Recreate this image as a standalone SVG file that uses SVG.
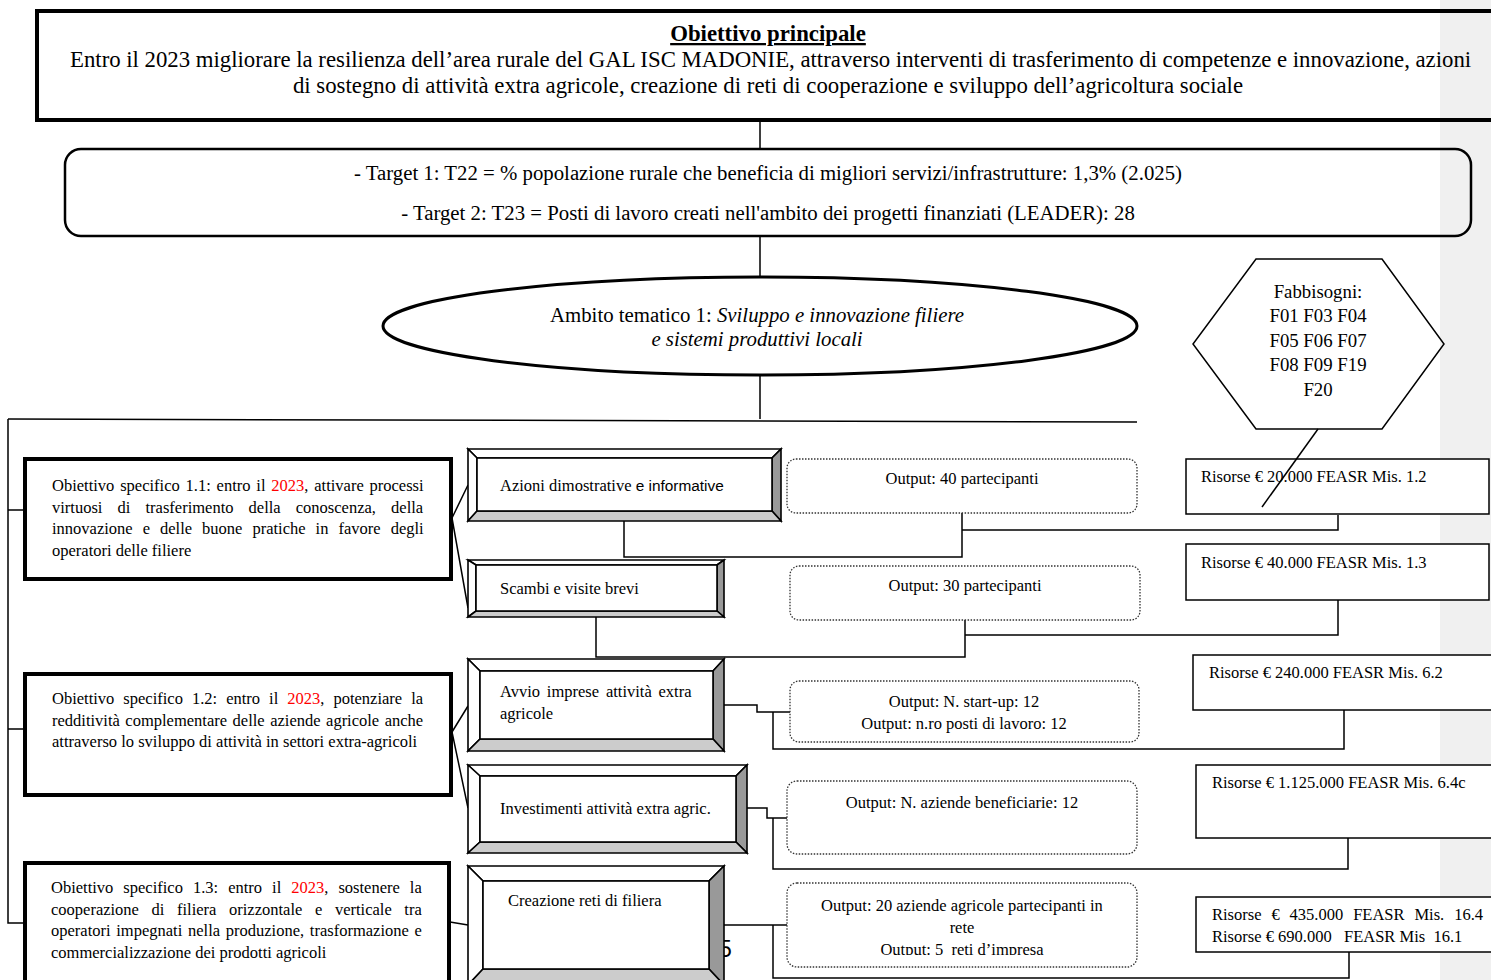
<svg xmlns="http://www.w3.org/2000/svg" width="1491" height="980" viewBox="0 0 1491 980">
<style>
text{font-family:"Liberation Serif","Times New Roman",serif;fill:#000}
.t21{font-size:22.8px}
.t19{font-size:20.8px}
.t15{font-size:16.5px}
.t18{font-size:18.8px}
.red{fill:#ff0000}
.sans{font-family:"Liberation Sans",Arial,sans-serif}
.thick{fill:#fff;stroke:#000;stroke-width:4}
.res{fill:#fff;stroke:#000;stroke-width:1.5}
.out{fill:#fff;stroke:#333;stroke-width:1.3;stroke-dasharray:1.5 1.5}
.bv{stroke:#000;stroke-width:1.6;stroke-linejoin:miter}
.w{fill:#fff}.g1{fill:#999}.g2{fill:#ccc}
.con{fill:none;stroke:#000;stroke-width:1.5}
</style>
<defs>
<clipPath id="clipO5"><rect x="787" y="883" width="352" height="72"/></clipPath>
</defs>
<rect x="0" y="0" width="1491" height="980" fill="#fff"/>
<rect x="1440" y="0" width="51" height="980" fill="#f0f0f0"/>

<g id="connectors" class="con">
<path d="M760,121V148M760,236V277M760,375V419"/>
<path d="M8,419L1137,422"/>
<path d="M8,419V923H25M8,510H25M8,729H25"/>
<path d="M452,518L468,485M452,518L468,608"/>
<path d="M452,732L468,706M452,732L468,808"/>
<path d="M450,922L468,925"/>
<path d="M624,521V557H962V513M962,530H1338V515"/>
<path d="M596,617V657H965V620M965,635H1338V600"/>
<path d="M724,705H757V712H790M773,712V749H1344V710"/>
<path d="M747,808H767V818H787M773,818V869H1348V838"/>
<path d="M724,925H787M773,925V978H1349V952"/>
</g>

<g id="main-objective">
<rect x="37" y="11" width="1470" height="109" fill="none" stroke="#000" stroke-width="4"/>
<text x="768" y="41" class="t21" text-anchor="middle" font-weight="bold" text-decoration="underline">Obiettivo principale</text>
<text x="70" y="67" class="t21" word-spacing="-0.1">Entro il 2023 migliorare la resilienza dell’area rurale del GAL ISC MADONIE, attraverso interventi di trasferimento di competenze e innovazione, azioni</text>
<text x="768" y="93" class="t21" text-anchor="middle">di sostegno di attività extra agricole, creazione di reti di cooperazione e sviluppo dell’agricoltura sociale</text>
</g>

<g id="targets">
<rect x="65" y="149" width="1406" height="87" rx="16" fill="none" stroke="#000" stroke-width="2.5"/>
<text x="768" y="180" class="t19" text-anchor="middle">- Target 1: T22 = % popolazione rurale che beneficia di migliori servizi/infrastrutture: 1,3% (2.025)</text>
<text x="768" y="220" class="t19" text-anchor="middle">- Target 2: T23 = Posti di lavoro creati nell'ambito dei progetti finanziati (LEADER): 28</text>
</g>

<g id="ambito">
<ellipse cx="760" cy="326" rx="377" ry="49" fill="#fff" stroke="#000" stroke-width="3"/>
<text x="757" y="322" class="t19" text-anchor="middle">Ambito tematico 1: <tspan font-style="italic">Sviluppo e innovazione filiere</tspan></text>
<text x="757" y="346" class="t19" text-anchor="middle" font-style="italic">e sistemi produttivi locali</text>
</g>

<g id="fabbisogni">
<polygon points="1256,259 1382,259 1444,344 1382,429 1256,429 1193,344" fill="none" stroke="#000" stroke-width="1.5"/>
<text class="t18" text-anchor="middle"><tspan x="1318" y="298">Fabbisogni:</tspan><tspan x="1318" y="322">F01 F03 F04</tspan><tspan x="1318" y="347">F05 F06 F07</tspan><tspan x="1318" y="371">F08 F09 F19</tspan><tspan x="1318" y="396">F20</tspan></text>
</g>

<g id="obiettivo-1-1">
<rect x="25" y="459" width="426" height="120" class="thick"/>
<text x="52" y="491" class="t15" word-spacing="1.7">Obiettivo specifico 1.1: entro il <tspan class="red">2023</tspan>, attivare processi</text>
<text x="52" y="513" class="t15" word-spacing="11">virtuosi di trasferimento della conoscenza, della</text>
<text x="52" y="534" class="t15" word-spacing="5.9">innovazione e delle buone pratiche in favore degli</text>
<text x="52" y="556" class="t15">operatori delle filiere</text>
</g>

<g id="obiettivo-1-2">
<rect x="25" y="674" width="426" height="121" class="thick"/>
<text x="52" y="704" class="t15" word-spacing="4.9">Obiettivo specifico 1.2: entro il <tspan class="red">2023</tspan>, potenziare la</text>
<text x="52" y="726" class="t15" word-spacing="1.4">redditività complementare delle aziende agricole anche</text>
<text x="52" y="747" class="t15">attraverso lo sviluppo di attività in settori extra-agricoli</text>
</g>

<g id="obiettivo-1-3">
<rect x="25" y="863" width="424" height="130" class="thick"/>
<text x="51" y="893" class="t15" word-spacing="5.9">Obiettivo specifico 1.3: entro il <tspan class="red">2023</tspan>, sostenere la</text>
<text x="51" y="915" class="t15" word-spacing="8.5">cooperazione di filiera orizzontale e verticale tra</text>
<text x="51" y="936" class="t15" word-spacing="1.6">operatori impegnati nella produzione, trasformazione e</text>
<text x="51" y="958" class="t15">commercializzazione dei prodotti agricoli</text>
</g>

<text x="719" y="957" class="sans" font-size="23">5</text>

<g id="azione-1">
<g class="bv">
<polygon class="w" points="468,449 781,449 772,458 477,458"/>
<polygon class="w" points="468,449 477,458 477,511 468,521"/>
<polygon class="g1" points="781,449 781,521 772,511 772,458"/>
<polygon class="g2" points="468,521 781,521 772,511 477,511"/>
<rect class="w" x="477" y="458" width="295" height="53"/>
</g>
<text x="500" y="491" class="t15">Azioni dimostrative <tspan class="sans" font-size="15.4">e informative</tspan></text>
</g>

<g id="azione-2">
<g class="bv">
<polygon class="w" points="468,560 724,560 717,565 476,565"/>
<polygon class="w" points="468,560 476,565 476,611 468,617"/>
<polygon class="g1" points="724,560 724,617 717,611 717,565"/>
<polygon class="g2" points="468,617 724,617 717,611 476,611"/>
<rect class="w" x="476" y="565" width="241" height="46"/>
</g>
<text x="500" y="594" class="t15">Scambi e visite brevi</text>
</g>

<g id="azione-3">
<g class="bv">
<polygon class="w" points="468,659 724,659 713,671 480,671"/>
<polygon class="w" points="468,659 480,671 480,739 468,751"/>
<polygon class="g1" points="724,659 724,751 713,739 713,671"/>
<polygon class="g2" points="468,751 724,751 713,739 480,739"/>
<rect class="w" x="480" y="671" width="233" height="68"/>
</g>
<text x="500" y="697" class="t15" word-spacing="2.7">Avvio imprese attività extra</text>
<text x="500" y="719" class="t15">agricole</text>
</g>

<g id="azione-4">
<g class="bv">
<polygon class="w" points="468,765 747,765 736,776 480,776"/>
<polygon class="w" points="468,765 480,776 480,842 468,853"/>
<polygon class="g1" points="747,765 747,853 736,842 736,776"/>
<polygon class="g2" points="468,853 747,853 736,842 480,842"/>
<rect class="w" x="480" y="776" width="256" height="66"/>
</g>
<text x="500" y="814" class="t15">Investimenti attività extra agric.</text>
</g>

<g id="azione-5">
<g class="bv">
<polygon class="w" points="468,866 724,866 709,881 483,881"/>
<polygon class="w" points="468,866 483,881 483,969 468,985"/>
<polygon class="g1" points="724,866 724,985 709,969 709,881"/>
<polygon class="g2" points="468,985 724,985 709,969 483,969"/>
<rect class="w" x="483" y="881" width="226" height="88"/>
</g>
<text x="508" y="906" class="t15">Creazione reti di filiera</text>
</g>

<g id="output-1">
<rect x="787" y="459" width="350" height="54" rx="9" class="out"/>
<text x="962" y="484" class="t15" text-anchor="middle">Output: 40 partecipanti</text>
</g>
<g id="output-2">
<rect x="790" y="566" width="350" height="54" rx="9" class="out"/>
<text x="965" y="591" class="t15" text-anchor="middle">Output: 30 partecipanti</text>
</g>
<g id="output-3">
<rect x="790" y="681" width="349" height="61" rx="9" class="out"/>
<text x="964" y="707" class="t15" text-anchor="middle">Output: N. start-up: 12</text>
<text x="964" y="729" class="t15" text-anchor="middle">Output: n.ro posti di lavoro: 12</text>
</g>
<g id="output-4">
<rect x="787" y="781" width="350" height="73" rx="10" class="out"/>
<text x="962" y="808" class="t15" text-anchor="middle">Output: N. aziende beneficiarie: 12</text>
</g>
<g id="output-5">
<rect x="787" y="883" width="350" height="84" rx="10" class="out"/>
<g clip-path="url(#clipO5)">
<text x="962" y="911" class="t15" text-anchor="middle">Output: 20 aziende agricole partecipanti in</text>
<text x="962" y="933" class="t15" text-anchor="middle">rete</text>
<text x="962" y="955" class="t15" text-anchor="middle" xml:space="preserve">Output: 5  reti d’impresa</text>
</g>
</g>

<g id="risorse-1">
<rect x="1186" y="459" width="303" height="55" class="res"/>
<text x="1201" y="482" class="t15">Risorse € 20.000 FEASR Mis. 1.2</text>
</g>
<g id="risorse-2">
<rect x="1186" y="544" width="303" height="56" class="res"/>
<text x="1201" y="568" class="t15">Risorse € 40.000 FEASR Mis. 1.3</text>
</g>
<g id="risorse-3">
<rect x="1193" y="655" width="310" height="55" class="res"/>
<text x="1209" y="678" class="t15">Risorse € 240.000 FEASR Mis. 6.2</text>
</g>
<g id="risorse-4">
<rect x="1196" y="765" width="310" height="73" class="res"/>
<text x="1212" y="788" class="t15">Risorse € 1.125.000 FEASR Mis. 6.4c</text>
</g>
<g id="risorse-5">
<rect x="1196" y="897" width="310" height="55" class="res"/>
<text x="1212" y="920" class="t15" word-spacing="5.8">Risorse € 435.000 FEASR Mis. 16.4</text>
<text x="1212" y="942" class="t15" xml:space="preserve">Risorse € 690.000   FEASR Mis  16.1</text>
</g>

<g id="fabbisogni-link">
<line x1="1318" y1="429" x2="1262" y2="507" stroke="#000" stroke-width="1.5"/>
</g>
</svg>
